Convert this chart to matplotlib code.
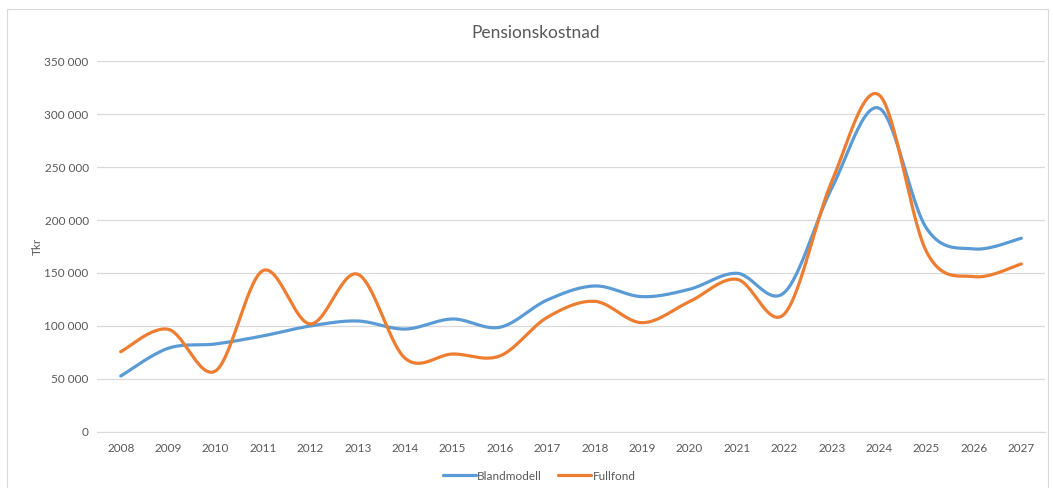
import numpy as np
import matplotlib.pyplot as plt
from matplotlib.patches import Rectangle
from matplotlib.ticker import FuncFormatter

years = [str(y) for y in range(2008, 2028)]
blandmodell = [52600, 78800, 82900, 90500, 99900, 104600, 97000, 106500, 98700, 124500,
               137700, 127600, 134600, 149700, 131500, 230000, 305700, 192200, 172700, 182800]
fullfond = [75600, 96800, 57400, 152200, 101800, 148800, 69400, 73400, 71600, 108100,
            123200, 103000, 122900, 144000, 111200, 236300, 318200, 170100, 146500, 158500]

BLUE = "#5B9BD5"
ORANGE = "#ED7D31"
TEXT = "#595959"

plt.rcParams["font.family"] = ["Lato", "DejaVu Sans"]


def smooth(xs, ys, n=30):
    # Excel-like smoothing: cubic bezier with catmull-rom control points
    xs = np.asarray(xs, float)
    ys = np.asarray(ys, float)
    px = np.concatenate([[xs[0]], xs, [xs[-1]]])
    py = np.concatenate([[ys[0]], ys, [ys[-1]]])
    t = np.linspace(0, 1, n)
    outx, outy = [], []
    for i in range(1, len(px) - 2):
        p0 = np.array([px[i], py[i]])
        p3 = np.array([px[i + 1], py[i + 1]])
        c1 = p0 + (p3 - np.array([px[i - 1], py[i - 1]])) / 6
        c2 = p3 - (np.array([px[i + 2], py[i + 2]]) - p0) / 6
        b = ((1 - t) ** 3)[:, None] * p0 + (3 * (1 - t) ** 2 * t)[:, None] * c1 \
            + (3 * (1 - t) * t ** 2)[:, None] * c2 + (t ** 3)[:, None] * p3
        outx.extend(b[:, 0])
        outy.extend(b[:, 1])
    return outx, outy


fig = plt.figure(figsize=(10.53, 4.88), dpi=100)
fig.patches.append(Rectangle((7 / 1053, -0.01), 1041 / 1053, 1 - 9 / 488 + 0.01,
                             transform=fig.transFigure, fill=False,
                             edgecolor="#D9D9D9", linewidth=0.8))

ax = fig.add_axes([97 / 1053, 1 - 431.7 / 488, 948 / 1053, 370.4 / 488])
x = np.arange(len(years))

for vals, col, name in [(blandmodell, BLUE, "Blandmodell"), (fullfond, ORANGE, "Fullfond")]:
    sx, sy = smooth(x, vals)
    ax.plot(sx, sy, color=col, linewidth=2.3, label=name, solid_capstyle="round")

ax.set_xlim(-0.5, len(years) - 0.5)
ax.set_ylim(0, 350000)
ax.set_yticks(np.arange(0, 350001, 50000))
ax.yaxis.set_major_formatter(FuncFormatter(lambda v, p: f"{int(v):,}".replace(",", " ")))
ax.set_xticks(x)
ax.set_xticklabels(years)
ax.grid(axis="y", color="#D9D9D9", linewidth=0.9)
ax.set_axisbelow(True)
for s in ["top", "right", "left"]:
    ax.spines[s].set_visible(False)
ax.spines["bottom"].set_color("#D9D9D9")
ax.tick_params(axis="both", length=0, labelsize=8.5, labelcolor=TEXT)
ax.tick_params(axis="x", pad=8)
ax.tick_params(axis="y", pad=6)

ax.set_ylabel("Tkr", fontsize=8.5, color=TEXT)
ax.yaxis.set_label_coords(-0.057, 0.5)
fig.text(536 / 1053, 1 - 33 / 488, "Pensionskostnad", ha="center", va="center",
         fontsize=12.5, color=TEXT)

leg = fig.legend(loc="center", bbox_to_anchor=(539 / 1053, 1 - 476 / 488), ncol=2,
                 frameon=False, fontsize=8.5, handlelength=2.8, handletextpad=0.1,
                 columnspacing=1.4)
for t in leg.get_texts():
    t.set_color(TEXT)

fig.savefig("out.png", dpi=100)
